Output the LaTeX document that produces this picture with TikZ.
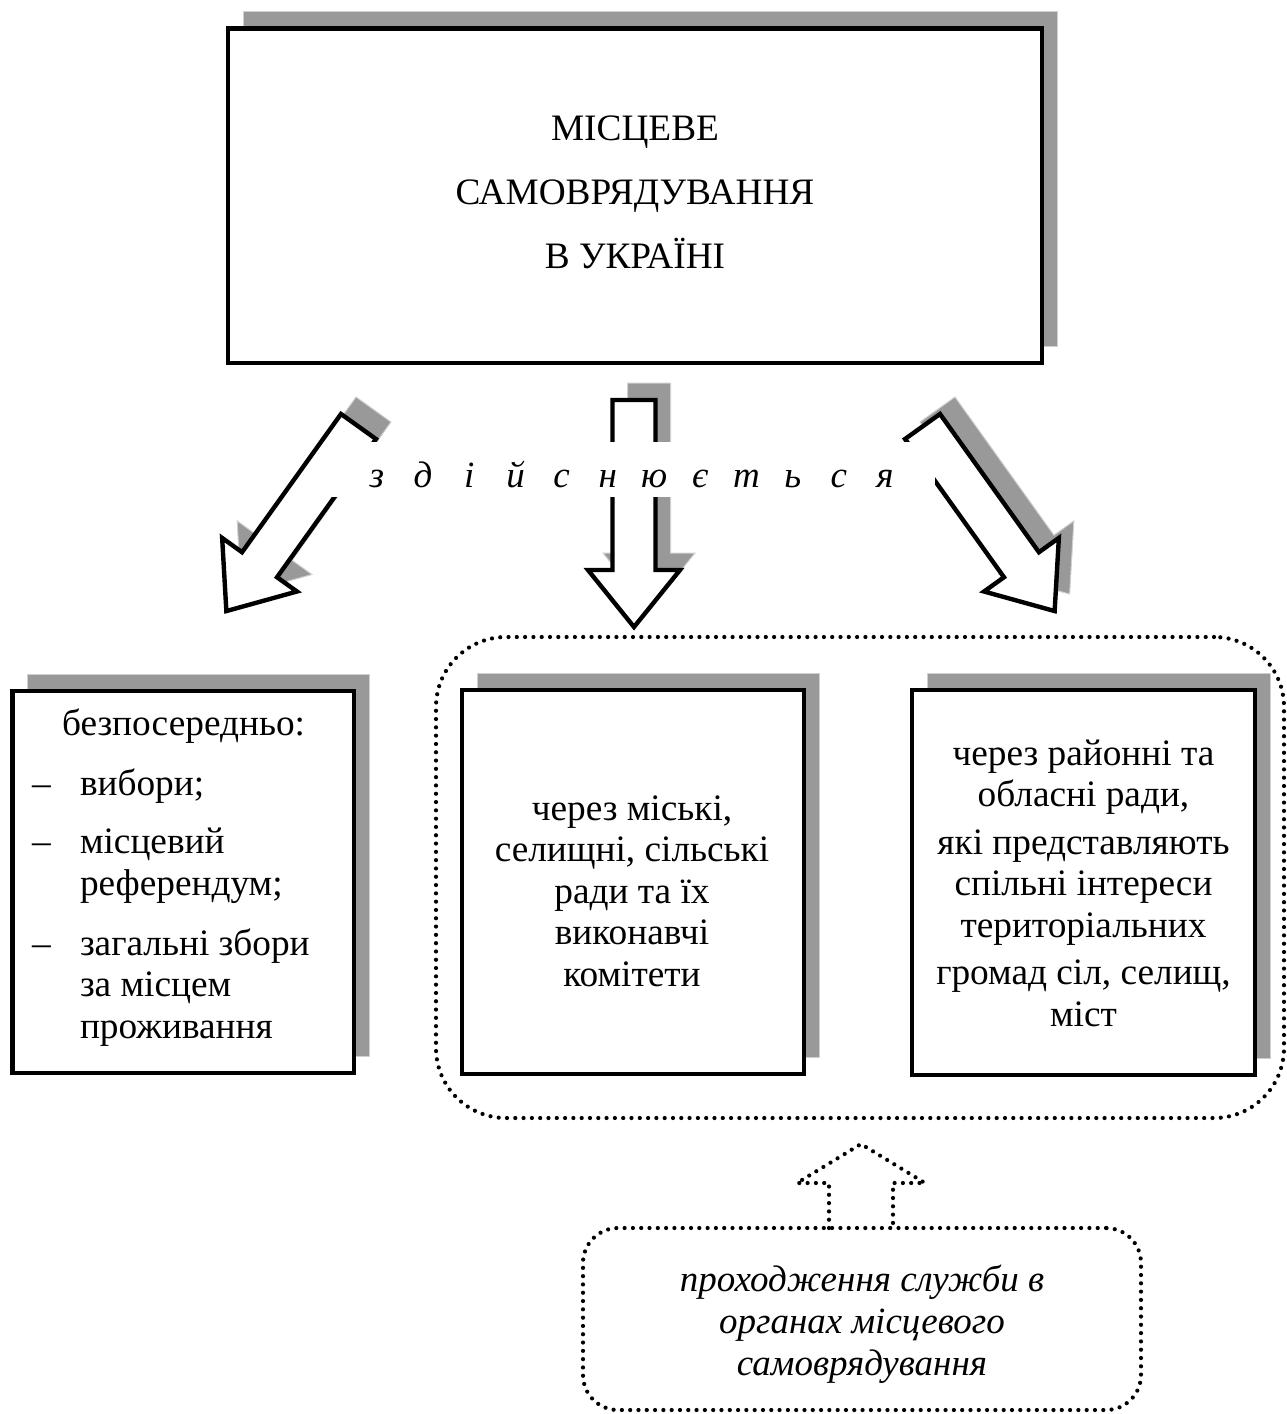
\documentclass[tikz,border=0pt]{standalone}
\usepackage{fontspec}
\setmainfont{Liberation Serif}
\usetikzlibrary{shadows}
\definecolor{shadowgray}{HTML}{999999}
\definecolor{shadowedge}{HTML}{D0D0D0}
\tikzset{
  pics/blockarr/.style={code={
    \path[pic actions] (-21.5,0) -- (21.5,0) -- (21.5,170) -- (46,170)
      -- (0,227) -- (-46,170) -- (-21.5,170) -- cycle;
  }}
}
\begin{document}
\begin{tikzpicture}[x=1pt,y=-1pt,
  txt/.style={font=\fontsize{37.3}{41.5}\selectfont, inner sep=0pt, outer sep=0pt},
  itxt/.style={font=\fontsize{37}{42}\selectfont\itshape, inner sep=0pt, outer sep=0pt},
  framebox/.style={draw=black, line width=4.2pt, fill=white, inner sep=0pt, outer sep=0pt,
    general shadow={fill=shadowgray, draw=shadowedge, line width=1pt,
      shadow xshift=15pt, shadow yshift=17pt}},
  dotframe/.style={draw=black, line width=4.2pt, line cap=round,
    dash pattern=on 0pt off 8.3pt, inner sep=0pt, outer sep=0pt},
  blockshadow/.style={fill=shadowgray, draw=shadowedge, line width=1pt},
  blockarrow/.style={fill=white, draw=black, line width=4.4pt},
]
\useasboundingbox (0,0) rectangle (1287,1414);

% title box
\node[framebox, minimum width=814, minimum height=334.5] (top) at (635,195.75) {};
\node[txt, font=\fontsize{37.3}{64}\selectfont, align=center, anchor=base] (toptext) at (635,268)
  {МІСЦЕВЕ\\САМОВРЯДУВАННЯ\\В УКРАЇНІ};

% three block arrows with their shadows
\pic[blockshadow, rotate=-35.6] at (373.5,409.5) {blockarr};
\pic[blockshadow] at (649,383) {blockarr};
\pic[blockshadow, rotate=35.6] at (937.5,409.5) {blockarr};
\pic[blockarrow, rotate=-35.6] at (358.5,426.5) {blockarr};
\pic[blockarrow] at (634,400) {blockarr};
\pic[blockarrow, rotate=35.6] at (922.5,426.5) {blockarr};

% white band carrying the spaced verb
\fill[white] (330,442) rectangle (935,497);
\node[itxt, anchor=base] (verb) at (631,487)
  {\makebox[46.2pt]{з}\makebox[46.2pt]{д}\makebox[46.2pt]{і}\makebox[46.2pt]{й}%
   \makebox[46.2pt]{с}\makebox[46.2pt]{н}\makebox[46.2pt]{ю}\makebox[46.2pt]{є}%
   \makebox[46.2pt]{т}\makebox[46.2pt]{ь}\makebox[46.2pt]{с}\makebox[46.2pt]{я}};

% dotted group around the councils
\node[dotframe, rounded corners=70, minimum width=848, minimum height=481] (councils) at (860,877.5) {};

% left box: direct forms
\node[framebox, minimum width=341.5, minimum height=382] (direct) at (183.25,882) {};
\node[txt, anchor=base west] (directhead) at (62,735) {безпосередньо:};
\node[txt, anchor=base west] (dashA) at (32,795) {–};
\node[txt, anchor=base west] (itemA) at (80,795) {вибори;};
\node[txt, anchor=base west] (dashB) at (32,853) {–};
\node[txt, anchor=base west, align=left] (itemB) at (80,895) {місцевий\\референдум;};
\node[txt, anchor=base west] (dashC) at (32,955) {–};
\node[txt, anchor=base west, align=left] (itemC) at (80,1038) {загальні збори\\за місцем\\проживання};

% middle box: local councils
\node[framebox, minimum width=342, minimum height=384] (local) at (633,882) {};
\node[txt, align=center, anchor=base] (localtext) at (632,986)
  {через міські,\\селищні, сільські\\ради та їх\\виконавчі\\комітети};

% right box: district and regional councils
\node[framebox, minimum width=343, minimum height=385] (region) at (1083.5,882.5) {};
\node[txt, align=center, anchor=base] (regiontext) at (1083.5,1026)
  {через районні та\\обласні ради,\\[6pt]які представляють\\спільні інтереси\\територіальних\\[6pt]громад сіл, селищ,\\міст};

% bottom dotted box and its dotted arrow
\node[dotframe, rounded corners=35, minimum width=558, minimum height=182] (service) at (862,1319) {};
\node[itxt, align=center, anchor=base] (servicetext) at (862,1375)
  {проходження служби в\\органах місцевого\\самоврядування};
\draw[dotframe, line join=round] ([xshift=-33pt]service.north) -- ++(0,-45) -- ++(-32,0)
  -- ++(64,-39) -- ++(64,39) -- ++(-32,0) -- ++(0,45);
\end{tikzpicture}
\end{document}
